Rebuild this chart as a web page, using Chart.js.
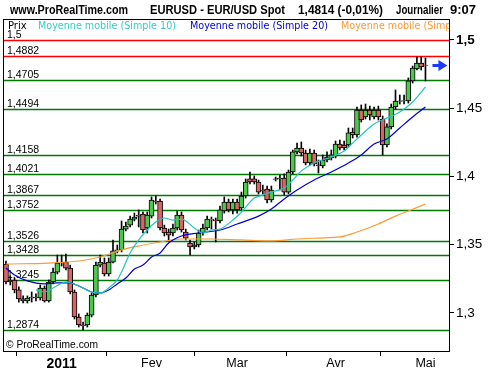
<!DOCTYPE html>
<html>
<head>
<meta charset="utf-8">
<script src="https://cdn.jsdelivr.net/npm/chart.js@4"></script>
<style>
  html, body { margin: 0; padding: 0; background: #fff; }
  canvas { display: block; }
</style>
</head>
<body>
<canvas id="myChart" width="500" height="370"></canvas>
<script>
// daily EUR/USD candles, index 0 = 15 Dec 2010 ... 98 = 2 May 2011
const open = [1.3359,1.3227,1.3242,1.3169,1.3103,1.3088,1.3110,1.3117,1.3110,1.3183,
  1.3088,1.3227,1.3300,1.3366,1.3373,1.3329,1.3154,1.2971,1.2912,1.2912,
  1.2985,1.3132,1.3351,1.3366,1.3286,1.3373,1.3455,1.3462,1.3615,1.3644,
  1.3688,1.3710,1.3725,1.3623,1.3710,1.3820,1.3820,1.3623,1.3593,1.3586,
  1.3623,1.3718,1.3593,1.3513,1.3484,1.3498,1.3586,1.3623,1.3681,1.3681,
  1.3674,1.3747,1.3813,1.3755,1.3813,1.3769,1.3857,1.3982,1.3982,1.3960,
  1.3901,1.3908,1.3828,1.3982,1.3982,1.3989,1.3886,1.4033,1.4180,1.4209,
  1.4172,1.4099,1.4172,1.4085,1.4077,1.4121,1.4136,1.4150,1.4238,1.4231,
  1.4231,1.4326,1.4304,1.4487,1.4436,1.4487,1.4436,1.4487,1.4421,1.4231,
  1.4363,1.4509,1.4553,1.4553,1.4553,1.4700,1.4788,1.4831,1.4817];
const close = [1.3227,1.3242,1.3169,1.3103,1.3088,1.3110,1.3117,1.3110,1.3183,1.3088,
  1.3227,1.3300,1.3366,1.3373,1.3329,1.3154,1.2971,1.2912,1.2905,1.2985,
  1.3132,1.3351,1.3373,1.3286,1.3373,1.3455,1.3462,1.3615,1.3637,1.3688,
  1.3703,1.3718,1.3608,1.3718,1.3828,1.3813,1.3623,1.3586,1.3571,1.3623,
  1.3718,1.3608,1.3549,1.3484,1.3498,1.3586,1.3623,1.3688,1.3688,1.3674,
  1.3755,1.3813,1.3755,1.3813,1.3755,1.3857,1.3960,1.3960,1.3960,1.3886,
  1.3894,1.3828,1.3901,1.3978,1.3989,1.3886,1.4033,1.4180,1.4209,1.4172,
  1.4099,1.4172,1.4092,1.4080,1.4121,1.4143,1.4158,1.4238,1.4209,1.4209,
  1.4319,1.4304,1.4487,1.4414,1.4487,1.4451,1.4487,1.4436,1.4231,1.4363,
  1.4509,1.4553,1.4550,1.4556,1.4700,1.4795,1.4831,1.4802,1.4814];
const high = [1.3381,1.3271,1.3256,1.3191,1.3125,1.3125,1.3154,1.3140,1.3205,1.3198,
  1.3242,1.3329,1.3425,1.3425,1.3432,1.3351,1.3169,1.2993,1.2934,1.3000,
  1.3147,1.3373,1.3425,1.3403,1.3403,1.3535,1.3498,1.3674,1.3666,1.3710,
  1.3732,1.3755,1.3740,1.3740,1.3850,1.3857,1.3835,1.3644,1.3615,1.3652,
  1.3747,1.3740,1.3615,1.3535,1.3520,1.3608,1.3652,1.3710,1.3703,1.3696,
  1.3784,1.3850,1.3835,1.3835,1.3835,1.3886,1.3982,1.4033,1.4004,1.3974,
  1.3937,1.3930,1.3930,1.3996,1.4011,1.4019,1.4048,1.4194,1.4245,1.4253,
  1.4194,1.4201,1.4194,1.4121,1.4158,1.4180,1.4194,1.4260,1.4267,1.4260,
  1.4355,1.4355,1.4509,1.4524,1.4531,1.4516,1.4509,1.4516,1.4443,1.4385,
  1.4531,1.4634,1.4597,1.4597,1.4722,1.4809,1.4875,1.4875,1.4868];
const low = [1.3213,1.3205,1.3147,1.3080,1.3073,1.3073,1.3080,1.3088,1.3095,1.3080,
  1.3080,1.3213,1.3286,1.3344,1.3315,1.3140,1.2956,1.2897,1.2875,1.2897,
  1.2971,1.3117,1.3337,1.3271,1.3271,1.3366,1.3440,1.3447,1.3601,1.3630,
  1.3674,1.3630,1.3586,1.3586,1.3696,1.3798,1.3608,1.3564,1.3535,1.3564,
  1.3608,1.3593,1.3535,1.3425,1.3469,1.3484,1.3571,1.3608,1.3615,1.3520,
  1.3659,1.3732,1.3740,1.3725,1.3732,1.3755,1.3842,1.3945,1.3945,1.3872,
  1.3872,1.3806,1.3813,1.3967,1.3901,1.3864,1.3872,1.4019,1.4165,1.4150,
  1.4085,1.4085,1.4077,1.4026,1.4063,1.4107,1.4121,1.4136,1.4194,1.4194,
  1.4216,1.4282,1.4289,1.4399,1.4421,1.4414,1.4421,1.4414,1.4158,1.4216,
  1.4348,1.4494,1.4531,1.4531,1.4538,1.4685,1.4780,1.4780,1.4700];

// moving averages (day index, value)
const ma10Day = [7,9,11,14,17,20,22,24,26,27,29,31,33,35,37,39,41,44,46,48,50,53,55,58,60,62,65,67,69,72,74,76,79,81,83,86,89,92,95,98];
const ma10 = [1.3169,1.3154,1.3183,1.3227,1.3198,1.3154,1.3147,1.3183,1.3242,1.3300,
  1.3440,1.3535,1.3608,1.3666,1.3696,1.3681,1.3688,1.3623,1.3586,1.3608,
  1.3615,1.3681,1.3740,1.3842,1.3864,1.3886,1.3916,1.3974,1.4041,1.4099,
  1.4121,1.4143,1.4187,1.4245,1.4304,1.4385,1.4428,1.4473,1.4546,1.4656];
const ma20Day = [0,2,5,9,12,15,17,20,22,24,26,28,30,32,34,36,38,41,45,50,54,59,62,65,68,72,76,80,83,86,89,92,95,98];
const ma20 = [1.3329,1.3278,1.3235,1.3213,1.3220,1.3220,1.3198,1.3154,1.3147,1.3169,
  1.3213,1.3256,1.3322,1.3351,1.3410,1.3440,1.3513,1.3564,1.3586,1.3608,
  1.3652,1.3710,1.3762,1.3835,1.3901,1.3974,1.4033,1.4099,1.4158,1.4238,
  1.4275,1.4355,1.4436,1.4509];
const maLongDay = [0,10,17,22,27,31,36,41,48,55,62,68,73,78,82,87,91,94,98];
const maLong = [1.3359,1.3366,1.3381,1.3410,1.3462,1.3491,1.3520,1.3542,1.3542,1.3535,
  1.3528,1.3542,1.3549,1.3557,1.3593,1.3652,1.3710,1.3747,1.3798];

const levels = [1.5, 1.4882, 1.4705, 1.4494, 1.4158, 1.4021, 1.3867, 1.3752, 1.3526, 1.3428, 1.3245, 1.2874];
const monthDays = [13, 34, 54, 77, 98];
const monthLabels = ["2011", "Fev", "Mar", "Avr", "Mai"];
const priceTicks = [1.3, 1.35, 1.4, 1.45, 1.5];
const lastPrice = 1.4814;

const fmt = v => String(v).replace(".", ",");
const days = open.map((v, i) => i);

const decor = {
  id: "decor",
  beforeDatasetsDraw(chart) {
    const { ctx, chartArea: a, scales: { y } } = chart;
    ctx.save();
    levels.forEach((v, k) => {
      const py = Math.round(y.getPixelForValue(v)) + 0.5;
      ctx.strokeStyle = k < 2 ? "#ff0000" : "#007a00";
      ctx.lineWidth = 1.3;
      ctx.beginPath();
      ctx.moveTo(a.left, py);
      ctx.lineTo(a.right, py);
      ctx.stroke();
      ctx.fillStyle = "#000";
      ctx.font = '10.5px "Liberation Sans", Arial';
      ctx.textBaseline = "alphabetic";
      ctx.fillText(fmt(v), a.left + 4, py - 2.5);
    });
    ctx.restore();
  },
  afterDraw(chart) {
    const { ctx, chartArea: a, scales: { x, y } } = chart;
    ctx.save();
    // frame
    ctx.strokeStyle = "#000";
    ctx.lineWidth = 1;
    ctx.strokeRect(a.left + 0.5, a.top + 0.5, a.right - a.left, a.bottom - a.top);

    // legend row, clipped by the frame
    ctx.save();
    ctx.beginPath();
    ctx.rect(a.left, a.top, a.right - a.left, 20);
    ctx.clip();
    ctx.font = '10px "DejaVu Sans"';
    ctx.textBaseline = "alphabetic";
    ctx.fillStyle = "#000";
    ctx.fillText("Prix", 8, 29);
    ctx.fillStyle = "#33cccc";
    ctx.fillText("Moyenne mobile (Simple 10)", 38, 29, 138);
    ctx.fillStyle = "#0000cc";
    ctx.fillText("Moyenne mobile (Simple 20)", 190, 29, 138);
    ctx.fillStyle = "#ff9933";
    ctx.fillText("Moyenne mobile (Simple 100)", 341, 29, 144);
    ctx.restore();

    // title
    ctx.fillStyle = "#000";
    ctx.font = 'bold 13px "Liberation Sans", Arial';
    ctx.textBaseline = "alphabetic";
    ctx.fillText("www.ProRealTime.com", 10, 14, 118);
    ctx.fillText("EURUSD - EUR/USD Spot", 150, 14, 135);
    ctx.fillText("1,4814 (-0,01%)", 298, 14, 85);
    ctx.fillText("Journalier", 396, 14, 47);
    ctx.fillText("9:07", 450, 14, 32);

    // copyright
    ctx.font = '11.5px "Liberation Sans", Arial';
    ctx.fillText("\u00a9 ProRealTime.com", 6, 348, 92);

    // last price arrow
    const ay = Math.round(y.getPixelForValue(lastPrice)) + 0.5;
    const ax = x.getPixelForValue(days[days.length - 1]);
    ctx.strokeStyle = "#1a3cff";
    ctx.fillStyle = "#1a3cff";
    ctx.lineWidth = 3;
    ctx.beginPath();
    ctx.moveTo(ax + 7, ay);
    ctx.lineTo(ax + 15, ay);
    ctx.stroke();
    ctx.beginPath();
    ctx.moveTo(ax + 22, ay);
    ctx.lineTo(ax + 13, ay - 5.5);
    ctx.lineTo(ax + 13, ay + 5.5);
    ctx.closePath();
    ctx.fill();
    ctx.restore();
  }
};

const up = days.map(i => close[i] >= open[i]);

new Chart(document.getElementById("myChart"), {
  type: "bar",
  data: {
    datasets: [
      {
        type: "line",
        data: ma10Day.map((d, k) => ({ x: d, y: ma10[k] })),
        borderColor: "#22c4c4",
        borderWidth: 1.2,
        pointRadius: 0,
        cubicInterpolationMode: "monotone",
        order: 1,
      },
      {
        type: "line",
        data: ma20Day.map((d, k) => ({ x: d, y: ma20[k] })),
        borderColor: "#0000c8",
        borderWidth: 1.2,
        pointRadius: 0,
        cubicInterpolationMode: "monotone",
        order: 1,
      },
      {
        type: "line",
        data: maLongDay.map((d, k) => ({ x: d, y: maLong[k] })),
        borderColor: "#ff9933",
        borderWidth: 1.2,
        pointRadius: 0,
        cubicInterpolationMode: "monotone",
        order: 1,
      },
      {
        data: days.map(i => ({ x: i, y: [open[i], close[i]] })),
        backgroundColor: days.map(i => (up[i] ? "#4cc84c" : "#d96464")),
        borderColor: "#000",
        borderWidth: 1,
        borderSkipped: false,
        barThickness: 5,
        grouped: false,
        order: 2,
      },
      {
        data: days.map(i => ({ x: i, y: [low[i], high[i]] })),
        backgroundColor: "#000",
        borderWidth: 0,
        barThickness: 1,
        grouped: false,
        order: 3,
      },
    ],
  },
  plugins: [decor],
  options: {
    responsive: false,
    animation: false,
    layout: { padding: { top: 19, left: 3, right: 0, bottom: 0 } },
    plugins: {
      legend: { display: false },
      tooltip: { enabled: false },
    },
    scales: {
      x: {
        type: "linear",
        min: -0.7,
        max: 103.5,
        offset: false,
        afterBuildTicks: s => { s.ticks = monthDays.map(v => ({ value: v })); },
        afterFit: s => { s.height = 19; },
        grid: { drawOnChartArea: false, tickLength: 5, color: "#000" },
        border: { display: false },
        ticks: {
          autoSkip: false,
          maxRotation: 0,
          padding: 0,
          color: "#000",
          callback: v => monthLabels[monthDays.indexOf(v)],
          font: c => (c.index === 0
            ? { family: "Liberation Sans", size: 14, weight: "bold" }
            : { family: "Liberation Sans", size: 12.5 }),
        },
      },
      y: {
        position: "right",
        min: 1.27216,
        max: 1.51538,
        afterBuildTicks: s => { s.ticks = priceTicks.map(v => ({ value: v })); },
        afterFit: s => { s.width = 51; },
        grid: { drawOnChartArea: false, tickLength: 5, color: "#000" },
        border: { display: false },
        ticks: {
          padding: 2,
          color: "#000",
          callback: v => fmt(v),
          font: c => (c.index === priceTicks.length - 1
            ? { family: "Liberation Sans", size: 13.5, weight: "bold" }
            : { family: "Liberation Sans", size: 13.5 }),
        },
      },
    },
  },
});
</script>
</body>
</html>
